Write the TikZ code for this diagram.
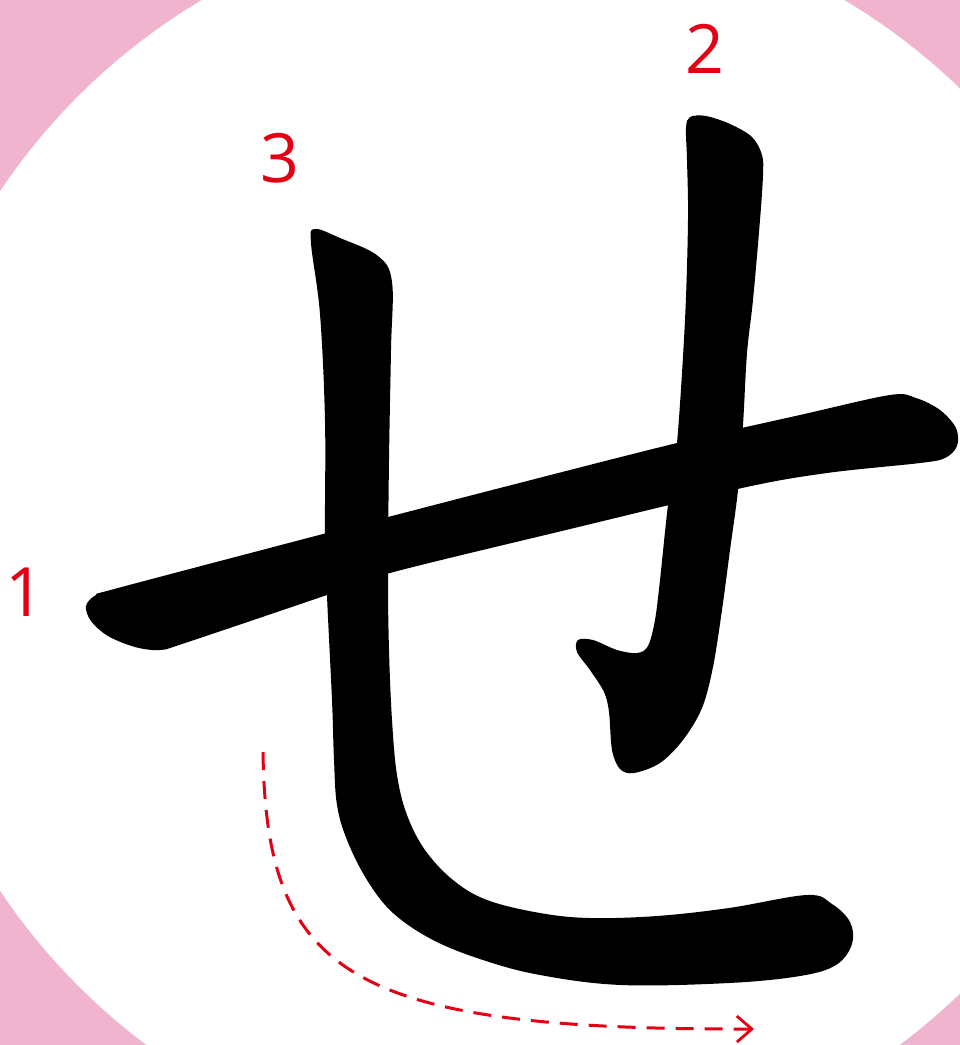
\documentclass[tikz,border=0pt]{standalone}
\usepackage{fontspec}
\newfontfamily\labelfont{Open Sans}
\usetikzlibrary{arrows.meta}
\definecolor{bgpink}{RGB}{240,180,207}
\definecolor{numred}{RGB}{228,0,20}
\tikzset{
  lbl/.style={text=numred, font=\labelfont\fontsize{68}{68}\selectfont, inner sep=0pt},
  inkstroke/.style={fill=black},
  guide/.style={draw=numred, line width=3pt, dash pattern=on 18pt off 11pt, -{Straight Barb[length=15pt,width=26pt,line width=2.8pt]}}
}
\begin{document}
\begin{tikzpicture}[x=1pt,y=-1pt]
\useasboundingbox (0,0) rectangle (960,1045);
\fill[bgpink] (0,0) rectangle (960,1045);
\fill[white] (523,541) circle[radius=629];

% stroke 1 (horizontal)
\fill[inkstroke] plot[smooth cycle, tension=0.55] coordinates {
 (86,606) (96,595) (118,588) (323,534) (500,488) (677,443) (800,415) (890,395)
 (916,398) (940,410) (956,428) (957,446) (945,458) (920,463) (827,473) (742,488)
 (566,530) (390,573) (327,595) (185,643) (160,650) (135,647) (108,636) (91,621)};

% stroke 2 (right vertical with hook)
\fill[inkstroke] plot[smooth cycle, tension=0.55] coordinates {
 (690,117) (706,116) (730,124) (752,137) (762,155) (763,175) (760,220) (753,300)
 (747,353) (743,425) (738,490) (730,550) (722,610) (713,667) (702,708) (683,740)
 (660,763) (634,773) (620,769) (612,750) (609,712) (604,692) (590,670) (577,652)
 (578,640) (593,640) (617,650) (637,653) (648,646) (655,620) (660,580) (668,505)
 (677,443) (685,320) (688,220) (687,160) (686,128)};

% stroke 3 (left vertical curving into bottom)
\fill[inkstroke] plot[smooth cycle, tension=0.6] coordinates {
 (315,229) (340,238) (378,256) (392,282) (391,350) (389,460) (388,575) (389,650)
 (392,720) (397,775) (407,815) (425,850) (453,880) (487,900) (540,913) (590,918)
 (657,916) (729,908) (807,895) (832,904) (850,922) (852,944) (836,965) (800,976)
 (729,983) (621,985) (540,975) (483,960) (433,940) (393,913) (367,880) (347,840)
 (337,805) (334,760) (332,700) (327,596) (325,534) (325,421) (320,314) (311,243)};

% stroke order numbers
\node[lbl] (n1) at (25,592) {1};
\node[lbl] (n2) at (705,49) {2};
\node[lbl] (n3) at (280,158) {3};

% direction guide
\coordinate (gs) at (263,752);
\coordinate (ge) at (754,1029);
\draw[guide] (gs) .. controls (266,975) and (350,1030) .. (ge);
\end{tikzpicture}
\end{document}
